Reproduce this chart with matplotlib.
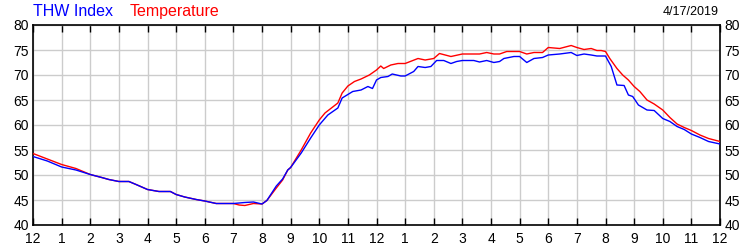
import matplotlib.pyplot as plt

plt.rcParams['font.family'] = ['Liberation Sans', 'DejaVu Sans']

# hours since midnight and readings (F)
temp_h = [0, 0.5, 1, 1.5, 2, 2.4, 2.65, 3, 3.35, 3.6, 4, 4.4, 4.8, 5, 5.3, 5.7, 6, 6.4,
          7, 7.2, 7.4, 7.7, 8, 8.17, 8.5, 8.72, 8.9, 9, 9.37, 9.7, 10, 10.2, 10.65, 10.8,
          11, 11.23, 11.46, 11.75, 12, 12.15, 12.25, 12.5, 12.75, 13, 13.45, 13.7, 14,
          14.2, 14.6, 15, 15.6, 15.85, 16.1, 16.3, 16.55, 17, 17.25, 17.5, 17.8, 18,
          18.4, 18.8, 19, 19.25, 19.5, 19.7, 19.85, 20, 20.15, 20.4, 20.6, 20.8, 21,
          21.2, 21.45, 21.7, 22, 22.25, 22.5, 22.75, 23, 23.3, 23.6, 24]
temp = [54.3, 53.2, 52.1, 51.3, 50.1, 49.5, 49.1, 48.7, 48.7, 48.1, 47.1, 46.7, 46.7,
        46.1, 45.6, 45.1, 44.8, 44.3, 44.3, 44.0, 43.9, 44.3, 44.2, 44.9, 47.4, 49.0,
        51.0, 51.5, 55.0, 58.4, 61.0, 62.4, 64.4, 66.4, 67.8, 68.7, 69.2, 70.0, 71.0,
        71.8, 71.3, 72.0, 72.3, 72.3, 73.3, 73.0, 73.3, 74.3, 73.7, 74.2, 74.2, 74.5,
        74.2, 74.2, 74.7, 74.7, 74.2, 74.5, 74.5, 75.5, 75.3, 75.9, 75.5, 75.1, 75.3,
        74.9, 74.9, 74.7, 73.3, 71.3, 70.0, 69.0, 67.7, 66.7, 65.0, 64.2, 63.0, 61.5,
        60.2, 59.5, 58.9, 58.0, 57.3, 56.7]

thw_h = [0, 0.5, 1, 1.5, 2, 2.4, 2.65, 3, 3.35, 3.6, 4, 4.4, 4.8, 5, 5.3, 5.7, 6, 6.4,
         7, 7.4, 7.7, 8, 8.17, 8.5, 8.72, 8.9, 9, 9.37, 9.7, 10, 10.3, 10.65, 10.8,
         11.17, 11.46, 11.7, 11.86, 12, 12.15, 12.4, 12.55, 12.7, 12.85, 13, 13.3,
         13.45, 13.7, 13.9, 14.1, 14.35, 14.6, 14.8, 15, 15.4, 15.6, 15.85, 16.1, 16.3,
         16.45, 16.8, 17, 17.25, 17.5, 17.8, 18, 18.4, 18.8, 19, 19.25, 19.5, 19.7, 20,
         20.2, 20.4, 20.65, 20.8, 20.95, 21.15, 21.45, 21.7, 22, 22.25, 22.5, 22.75,
         23, 23.3, 23.6, 24]
thw = [53.7, 52.8, 51.6, 51.0, 50.1, 49.5, 49.1, 48.7, 48.7, 48.1, 47.1, 46.7, 46.7,
       46.1, 45.6, 45.1, 44.8, 44.3, 44.3, 44.5, 44.6, 44.2, 44.9, 47.8, 49.2, 51.0,
       51.5, 54.4, 57.4, 60.0, 62.0, 63.4, 65.4, 66.7, 67.0, 67.7, 67.3, 69.0, 69.5,
       69.7, 70.2, 70.0, 69.8, 69.8, 70.7, 71.7, 71.5, 71.7, 72.9, 72.9, 72.3, 72.7,
       72.9, 72.9, 72.6, 72.9, 72.5, 72.7, 73.3, 73.7, 73.7, 72.5, 73.3, 73.5, 74.0,
       74.2, 74.5, 73.9, 74.2, 74.0, 73.8, 73.8, 71.7, 68.0, 67.9, 66.0, 65.7, 64.0,
       63.0, 62.9, 61.3, 60.7, 59.7, 59.1, 58.2, 57.5, 56.7, 56.2]

hour_ticks = list(range(25))
hour_labels = ['12'] + [str(h) for h in range(1, 12)] + ['12'] + [str(h) for h in range(1, 12)] + ['12']
y_ticks = [40, 45, 50, 55, 60, 65, 70, 75, 80]

fig = plt.figure(figsize=(7.5, 2.5), dpi=100)
ax = fig.add_axes([0.044, 0.1, 0.916, 0.8])

ax.plot(temp_h, temp, color='#ff0000', lw=1.0, zorder=3)
ax.plot(thw_h, thw, color='#0000ff', lw=1.0, zorder=4)

ax.set_xlim(0, 24)
ax.set_ylim(40, 80)
ax.set_xticks(hour_ticks)
ax.set_xticklabels(hour_labels)
ax.set_yticks(y_ticks)
ax.grid(True, color='#cccccc', lw=1.0)
ax.set_axisbelow(True)

ax.tick_params(axis='x', which='both', direction='in', length=5, width=1,
               top=True, bottom=True, labelsize=10, pad=5)
ax.tick_params(axis='y', which='both', length=0, labelsize=10, pad=3,
               left=True, right=True, labelleft=True, labelright=True)
for s in ax.spines.values():
    s.set_linewidth(1.2)

fig.text(0.044, 0.955, 'THW Index', color='#0000ff', fontsize=11.5, va='center', ha='left')
fig.text(0.173, 0.955, 'Temperature', color='#ff0000', fontsize=11.5, va='center', ha='left')
fig.text(0.958, 0.953, '4/17/2019', color='black', fontsize=9, va='center', ha='right')

fig.savefig('out.png', dpi=100)
